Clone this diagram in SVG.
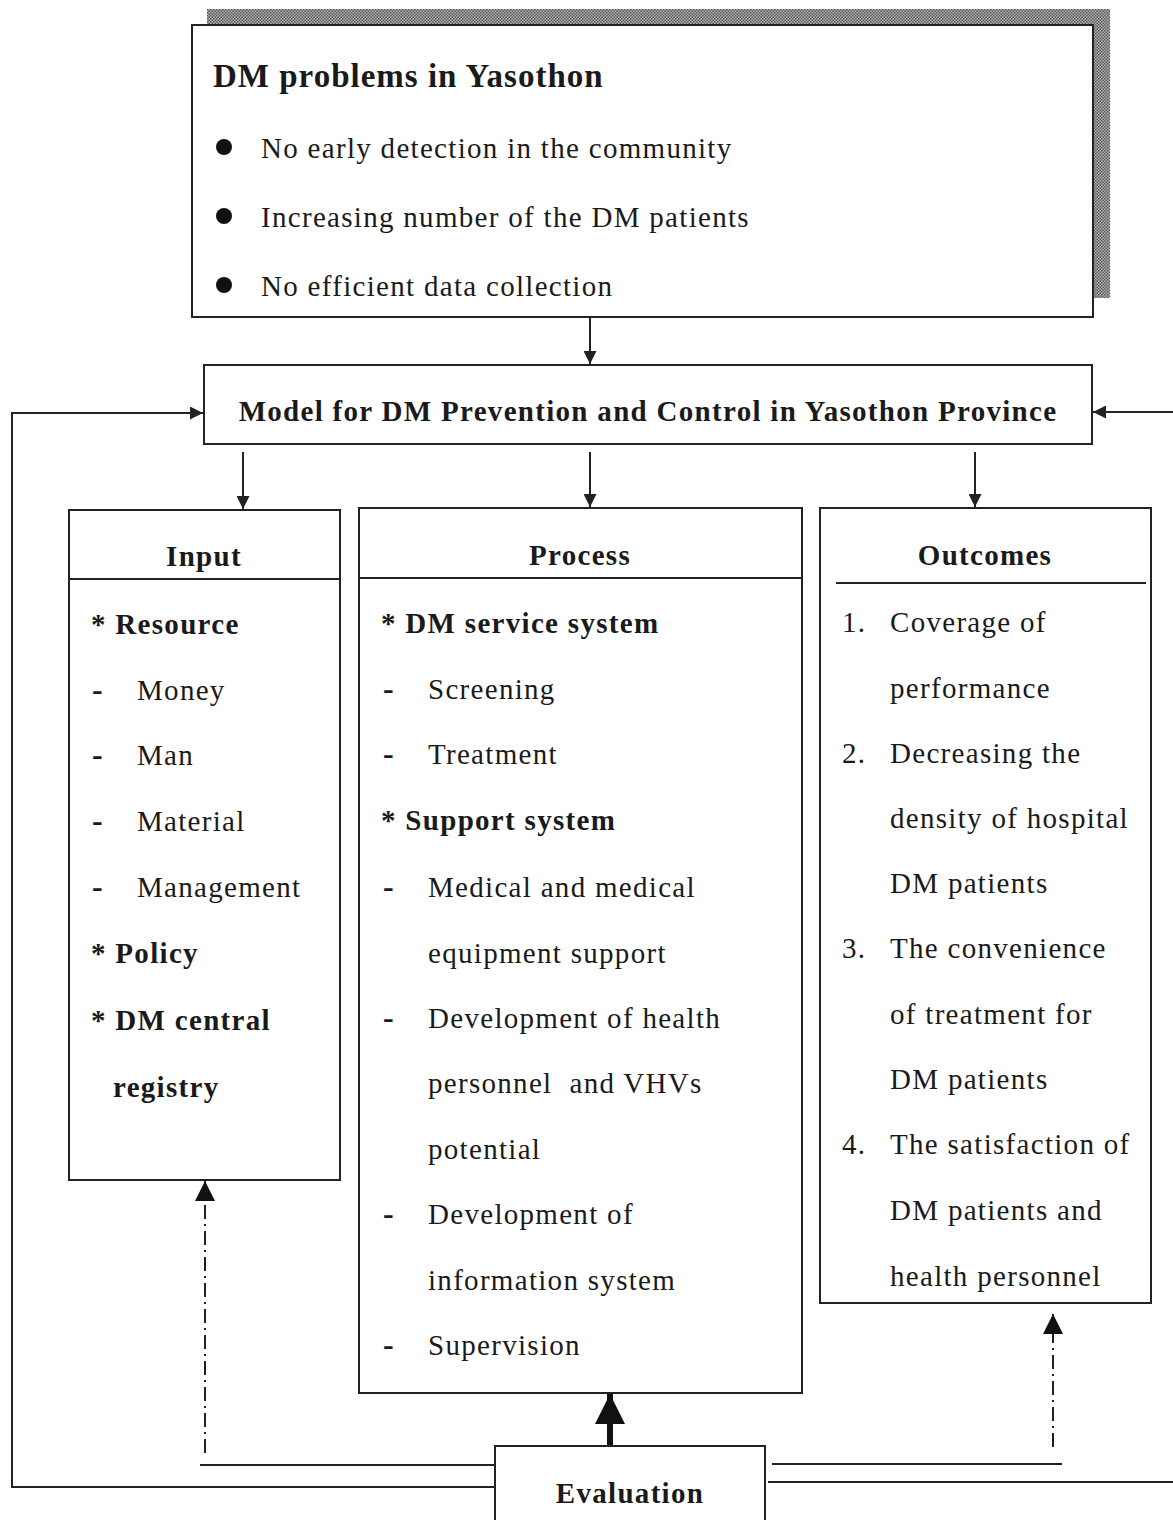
<svg xmlns="http://www.w3.org/2000/svg" width="1173" height="1520" viewBox="0 0 1173 1520">
<defs>
<pattern id="hatch" width="3" height="3" patternUnits="userSpaceOnUse">
<rect width="3" height="3" fill="#b0b0b0"/>
<rect width="1.5" height="1.5" fill="#5a5a5a"/>
<rect x="1.5" y="1.5" width="1.5" height="1.5" fill="#5a5a5a"/>
</pattern>
<marker id="ah" viewBox="0 0 10 10" refX="10" refY="5" markerWidth="13" markerHeight="13" markerUnits="userSpaceOnUse" orient="auto">
<path d="M0,0 L10,5 L0,10 Z" fill="#222"/>
</marker>
<marker id="ahd" viewBox="0 0 10 10" refX="10" refY="5" markerWidth="20" markerHeight="22" markerUnits="userSpaceOnUse" orient="auto">
<path d="M0,0 L10,5 L0,10 Z" fill="#111"/>
</marker>
<marker id="ahb" viewBox="0 0 10 10" refX="10" refY="5" markerWidth="32" markerHeight="30" markerUnits="userSpaceOnUse" orient="auto">
<path d="M0,0 L10,5 L0,10 Z" fill="#111"/>
</marker>
</defs>
<style>
.box{fill:#fff;stroke:#222;stroke-width:2}
.ln{fill:none;stroke:#222;stroke-width:2}
.dd{fill:none;stroke:#222;stroke-width:2;stroke-dasharray:14,5,2,5}
text{font-family:"Liberation Serif","Times New Roman",serif;fill:#1a1a1a}
.t{font-size:29px;letter-spacing:1.3px}
.b{font-size:29px;font-weight:bold;letter-spacing:1.3px}
.h{font-size:33px;font-weight:bold;letter-spacing:1px}
.d{font-size:32px;font-weight:bold}
</style>
<rect width="1173" height="1520" fill="#fff"/>

<g id="connectors">
<line class="ln" x1="590" y1="317" x2="590" y2="364" marker-end="url(#ah)"/>
<line class="ln" x1="243" y1="452" x2="243" y2="509" marker-end="url(#ah)"/>
<line class="ln" x1="590" y1="452" x2="590" y2="507" marker-end="url(#ah)"/>
<line class="ln" x1="975" y1="452" x2="975" y2="507" marker-end="url(#ah)"/>
<polyline class="ln" points="495,1487 12,1487 12,413 203,413" marker-end="url(#ah)"/>
<line class="ln" x1="1173" y1="412" x2="1093" y2="412" marker-end="url(#ah)"/>
<line class="ln" x1="768" y1="1482" x2="1173" y2="1482"/>
<line class="ln" x1="200" y1="1465" x2="495" y2="1465"/>
<line class="ln" x1="772" y1="1464" x2="1062" y2="1464"/>
<line class="dd" x1="205" y1="1453" x2="205" y2="1181" marker-end="url(#ahd)"/>
<line class="dd" x1="1053" y1="1447" x2="1053" y2="1314" marker-end="url(#ahd)"/>
<line x1="610" y1="1446" x2="610" y2="1394" stroke="#111" stroke-width="6" marker-end="url(#ahb)"/>
</g>

<g id="problems">
<rect x="207" y="9" width="903" height="17" fill="url(#hatch)"/>
<rect x="1093" y="9" width="17" height="289" fill="url(#hatch)"/>
<rect class="box" x="192" y="25" width="901" height="292"/>
<text class="h" x="213" y="87">DM problems in Yasothon</text>
<circle cx="224" cy="147" r="8" fill="#111"/>
<circle cx="224" cy="216" r="8" fill="#111"/>
<circle cx="224" cy="285" r="8" fill="#111"/>
<text class="t" x="261" y="158">No early detection in the community</text>
<text class="t" x="261" y="227">Increasing number of the DM patients</text>
<text class="t" x="261" y="296">No efficient data collection</text>
</g>

<g id="model">
<rect class="box" x="204" y="365" width="888" height="79"/>
<text class="b" x="648" y="421" text-anchor="middle">Model for DM Prevention and Control in Yasothon Province</text>
</g>

<g id="input">
<rect class="box" x="69" y="510" width="271" height="670"/>
<line class="ln" x1="69" y1="579" x2="340" y2="579"/>
<text class="b" x="204" y="566" text-anchor="middle">Input</text>
<text class="b" x="91" y="634">* Resource</text>
<text class="d" x="92" y="700">-</text><text class="t" x="137" y="700">Money</text>
<text class="d" x="92" y="765">-</text><text class="t" x="137" y="765">Man</text>
<text class="d" x="92" y="831">-</text><text class="t" x="137" y="831">Material</text>
<text class="d" x="92" y="897">-</text><text class="t" x="137" y="897">Management</text>
<text class="b" x="91" y="963">* Policy</text>
<text class="b" x="91" y="1030">* DM central</text>
<text class="b" x="113" y="1097">registry</text>
</g>

<g id="process">
<rect class="box" x="359" y="508" width="443" height="885"/>
<line class="ln" x1="359" y1="578" x2="802" y2="578"/>
<text class="b" x="580" y="565" text-anchor="middle">Process</text>
<text class="b" x="381" y="633">* DM service system</text>
<text class="d" x="383" y="699">-</text><text class="t" x="428" y="699">Screening</text>
<text class="d" x="383" y="764">-</text><text class="t" x="428" y="764">Treatment</text>
<text class="b" x="381" y="830">* Support system</text>
<text class="d" x="383" y="897">-</text><text class="t" x="428" y="897">Medical and medical</text>
<text class="t" x="428" y="963">equipment support</text>
<text class="d" x="383" y="1028">-</text><text class="t" x="428" y="1028">Development of health</text>
<text class="t" x="428" y="1093" xml:space="preserve">personnel  and VHVs</text>
<text class="t" x="428" y="1159">potential</text>
<text class="d" x="383" y="1224">-</text><text class="t" x="428" y="1224">Development of</text>
<text class="t" x="428" y="1290">information system</text>
<text class="d" x="383" y="1355">-</text><text class="t" x="428" y="1355">Supervision</text>
</g>

<g id="outcomes">
<rect class="box" x="820" y="508" width="331" height="795"/>
<line class="ln" x1="836" y1="583" x2="1146" y2="583"/>
<text class="b" x="985" y="565" text-anchor="middle">Outcomes</text>
<text class="t" x="842" y="632">1.</text><text class="t" x="890" y="632">Coverage of</text>
<text class="t" x="890" y="698">performance</text>
<text class="t" x="842" y="763">2.</text><text class="t" x="890" y="763">Decreasing the</text>
<text class="t" x="890" y="828">density of hospital</text>
<text class="t" x="890" y="893">DM patients</text>
<text class="t" x="842" y="958">3.</text><text class="t" x="890" y="958">The convenience</text>
<text class="t" x="890" y="1024">of treatment for</text>
<text class="t" x="890" y="1089">DM patients</text>
<text class="t" x="842" y="1154">4.</text><text class="t" x="890" y="1154">The satisfaction of</text>
<text class="t" x="890" y="1220">DM patients and</text>
<text class="t" x="890" y="1286">health personnel</text>
</g>

<g id="evaluation">
<rect class="box" x="495" y="1446" width="270" height="90"/>
<text class="b" x="630" y="1503" text-anchor="middle">Evaluation</text>
</g>
</svg>
